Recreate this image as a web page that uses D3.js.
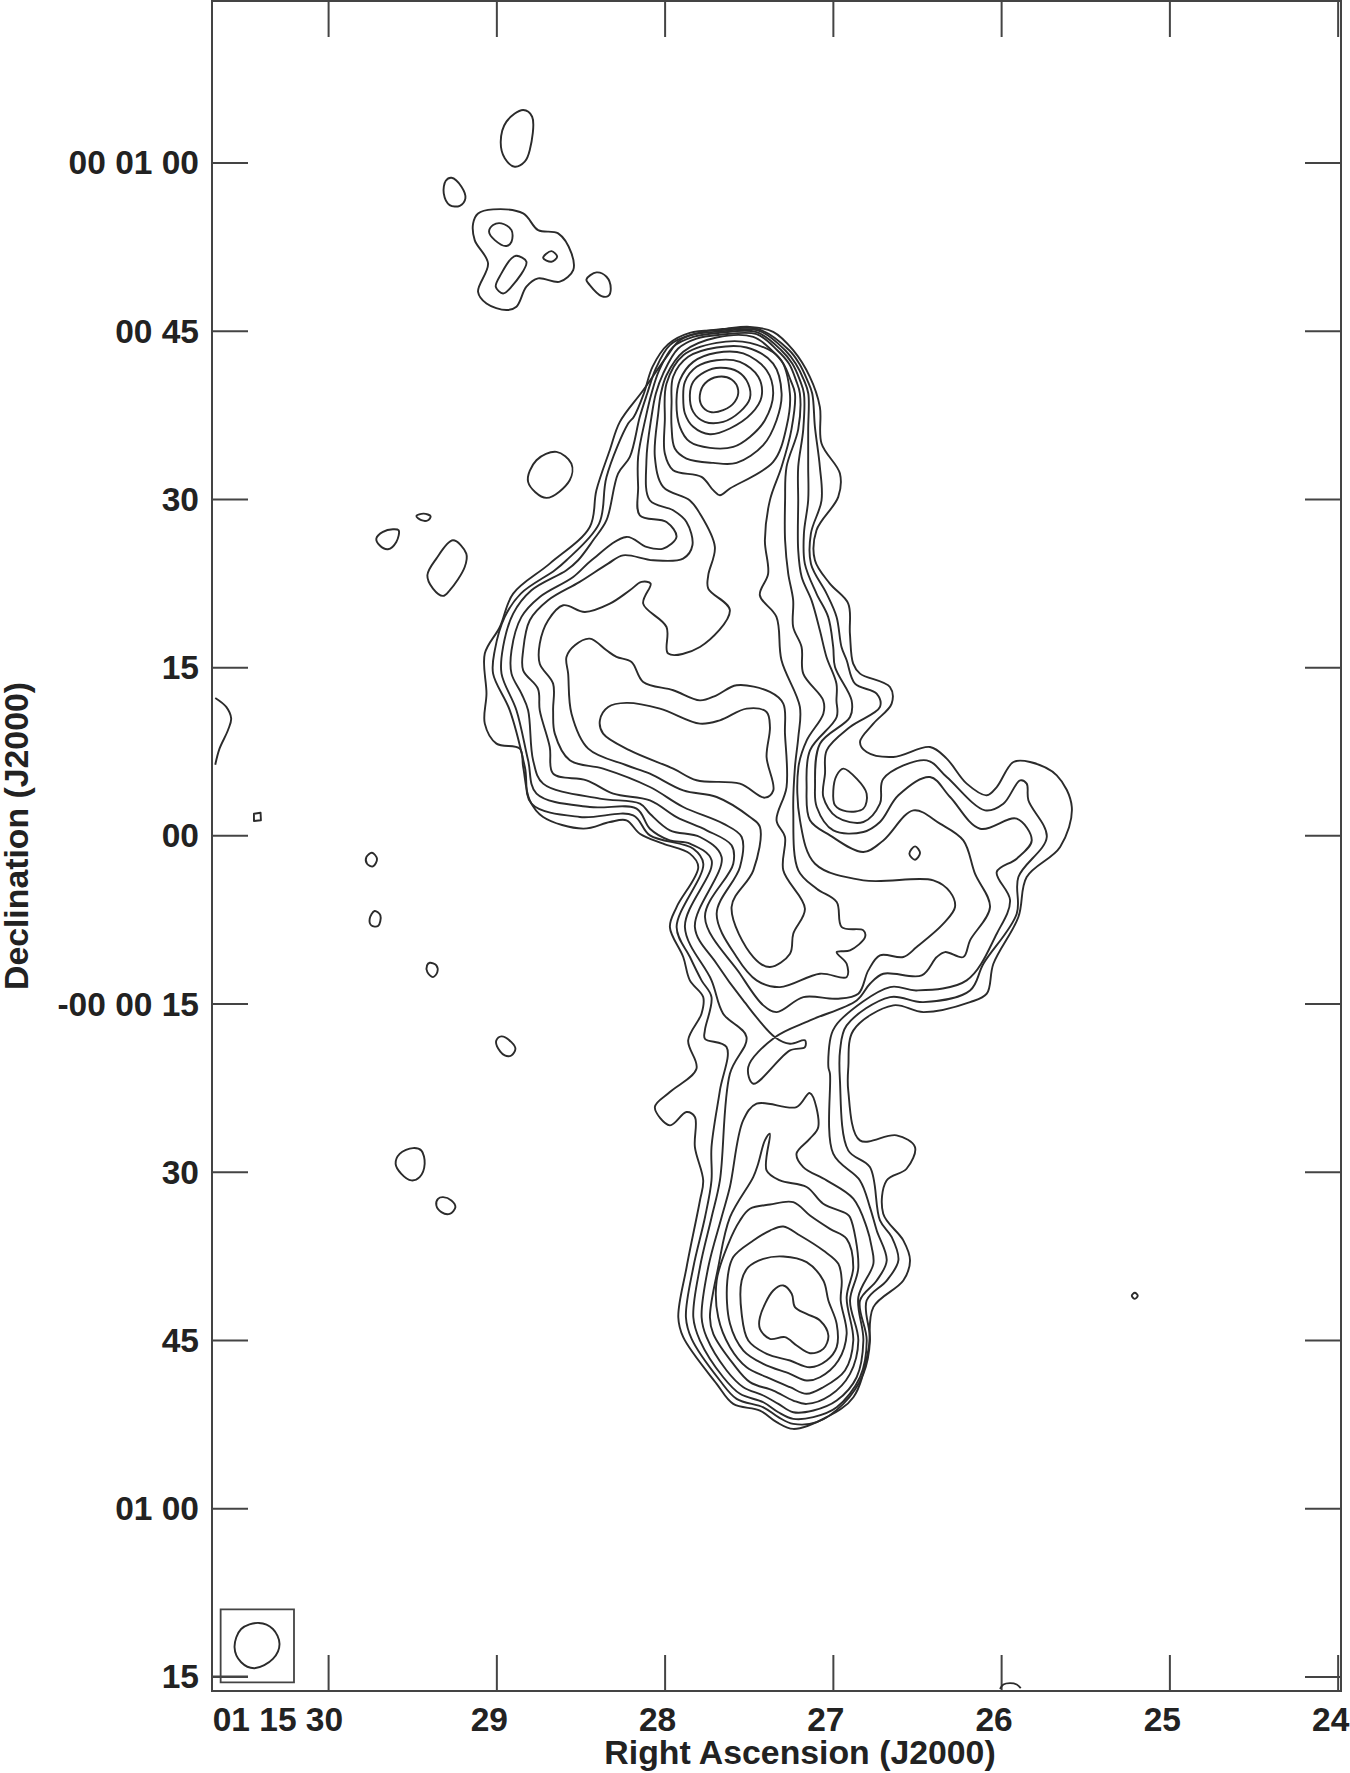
<!DOCTYPE html>
<html><head><meta charset="utf-8">
<style>html,body{margin:0;padding:0;background:#fff}svg{display:block}
.lab{font-family:"Liberation Sans",Arial,sans-serif;font-weight:700;font-size:33.5px;fill:#222}
.ttl{font-family:"Liberation Sans",Arial,sans-serif;font-weight:700;font-size:33.8px;fill:#222}
.tk line{stroke:#444;stroke-width:2}.tk path{display:none}
</style>
<script src="https://cdn.jsdelivr.net/npm/d3@7"></script></head><body>
<svg id="c" width="1350" height="1773"></svg>
<script>
// Right ascension ticks (seconds of 01 15 xx) and declination ticks (arcsec)
const raTicks=[30,29,28,27,26,25,24];
const raLabels=["01 15 30","29","28","27","26","25","24"];
const decTicks=[60,45,30,15,0,-15,-30,-45,-60,-75];
const decLabels=["00 01 00","00 45","30","15","00","-00 00 15","30","45","01 00","15"];
const raDomain=[30.69,23.98], decDomain=[74.4,-76.3];
const refRA=27; // vertices below: [arcsec west of RA 01 15 27, Dec arcsec]

const level1=[[-7.40,45.34],[-5.32,44.90],[-3.54,43.26],[-2.05,40.88],[-1.16,38.21],[-1.01,34.94],[0.63,32.26],[0.48,30.18],[-1.46,27.21],[-1.60,24.53],[-0.27,22.45],[1.37,20.67],[1.52,17.99],[1.81,15.31],[2.42,14.42],[5.09,13.23],[5.24,11.75],[3.61,9.96],[2.42,8.33],[3.01,7.43],[5.39,6.99],[8.66,7.88],[10.15,6.84],[11.93,4.61],[13.72,3.57],[14.61,4.31],[16.10,6.54],[17.58,6.54],[19.96,5.35],[21.30,2.53],[20.26,-1.04],[17.28,-3.72],[16.54,-7.28],[14.31,-11.45],[13.72,-14.12],[12.23,-14.87],[8.07,-15.76],[5.39,-15.16],[1.83,-17.39],[1.38,-20.66],[1.37,-22.74],[2.41,-27.20],[5.68,-26.75],[7.32,-27.80],[6.57,-29.73],[4.79,-30.77],[4.49,-33.74],[6.28,-36.12],[6.88,-37.91],[6.28,-39.70],[3.61,-42.07],[3.16,-45.94],[1.83,-50.10],[-0.55,-51.88],[-3.53,-52.93],[-5.01,-52.33],[-6.50,-51.29],[-8.88,-50.70],[-10.36,-48.91],[-13.34,-44.75],[-13.78,-42.97],[-13.04,-38.51],[-11.85,-32.56],[-11.56,-30.77],[-12.30,-27.80],[-12.30,-25.12],[-13.05,-24.67],[-14.53,-25.86],[-15.87,-24.23],[-14.53,-22.89],[-12.16,-20.81],[-12.90,-18.28],[-11.71,-15.90],[-11.56,-14.42],[-12.75,-12.93],[-13.34,-10.85],[-14.53,-8.18],[-13.93,-6.39],[-12.0,-2.82],[-12.75,-1.63],[-15.13,-0.74],[-17.21,0.15],[-18.40,1.34],[-19.88,1.19],[-22.26,0.60],[-25.83,1.64],[-27.02,3.12],[-27.61,6.10],[-27.91,7.73],[-29.99,8.18],[-31.03,9.96],[-30.88,12.64],[-31.03,16.21],[-29.69,18.58],[-28.50,21.56],[-25.24,24.23],[-21.67,27.50],[-21.08,30.77],[-19.89,34.34],[-18.99,36.87],[-16.91,39.69],[-14.83,42.67],[-13.64,44.15],[-11.56,44.90],[-9.48,45.19]];

const level2=[[-10.07,45.05],[-6.65,45.14],[-3.89,43.26],[-3.00,42.07],[-2.28,40.59],[-1.84,39.40],[-1.60,36.43],[-1.16,32.86],[-1.01,29.88],[-1.96,26.91],[-1.95,24.2],[-0.56,21.56],[0.33,19.48],[0.77,16.80],[1.23,15.61],[1.97,13.53],[3.90,12.64],[4.20,11.45],[1.53,9.66],[-0.55,7.58],[-0.70,5.50],[-0.85,3.42],[0.34,1.63],[2.72,1.19],[4.20,2.82],[4.50,5.05],[8.37,6.69],[10.15,5.20],[13.57,2.23],[15.20,2.82],[16.69,4.90],[17.28,4.61],[17.43,3.12],[19.07,-0.15],[16.54,-3.72],[16.39,-6.99],[13.42,-11.45],[12.23,-13.83],[8.07,-14.87],[5.10,-14.42],[1.23,-16.95],[0.64,-19.18],[0.63,-21.85],[1.37,-28.09],[3.30,-29.58],[4.20,-34.34],[5.25,-35.83],[5.84,-37.91],[4.80,-39.70],[3.01,-41.48],[3.31,-45.05],[2.72,-48.02],[0.93,-50.70],[-1.44,-52.33],[-3.53,-52.48],[-4.86,-51.88],[-6.20,-51.0],[-8.58,-50.25],[-10.07,-48.61],[-12.59,-44.90],[-13.10,-42.97],[-12.44,-38.51],[-11.40,-34.05],[-10.82,-30.77],[-10.82,-27.80],[-10.07,-22.74],[-9.48,-18.88],[-11.41,-18.13],[-11.41,-17.39],[-10.82,-14.42],[-11.71,-12.93],[-12.74,-10.85],[-13.93,-8.18],[-11.55,-2.53],[-12.44,-1.19],[-16.31,0.0],[-17.80,1.79],[-22.56,1.64],[-26.87,2.83],[-27.46,6.10],[-28.80,11.15],[-30.29,14.42],[-30.14,16.50],[-29.25,19.48],[-27.82,21.56],[-24.79,23.64],[-23.75,24.53],[-20.84,27.80],[-20.18,31.96],[-18.25,36.72],[-17.74,37.32],[-16.85,39.40],[-16.08,41.78],[-14.68,43.80],[-12.75,44.81]];

const level3=[[-10.07,44.93],[-6.65,45.02],[-4.25,43.26],[-3.32,42.07],[-2.58,40.59],[-2.19,39.40],[-2.20,36.2],[-2.20,32.86],[-2.20,29.88],[-2.58,26.91],[-2.50,24.23],[-1.46,21.56],[-0.42,19.48],[0.03,16.80],[0.19,15.02],[1.67,12.03],[1.53,10.55],[-1.15,8.17],[-1.59,4.31],[-1.44,2.53],[0.04,0.44],[2.72,0.30],[4.20,1.19],[5.84,3.57],[8.66,5.20],[10.45,3.42],[13.12,0.59],[16.39,1.49],[17.73,-0.45],[16.39,-2.08],[14.61,-3.27],[15.80,-5.80],[14.61,-8.77],[11.93,-12.93],[7.47,-13.83],[5.10,-13.53],[0.64,-16.50],[-0.11,-17.69],[-0.40,-20.66],[-0.26,-21.25],[0.03,-28.39],[2.41,-30.77],[3.30,-33.15],[3.91,-35.24],[4.80,-37.91],[3.91,-39.70],[2.42,-41.48],[3.02,-45.05],[2.42,-48.32],[0.34,-51.0],[-1.74,-51.88],[-3.53,-52.03],[-4.86,-51.44],[-6.20,-50.55],[-8.28,-49.80],[-9.77,-48.32],[-11.85,-45.05],[-12.44,-42.97],[-11.85,-38.51],[-10.81,-34.05],[-10.07,-30.77],[-9.18,-21.25],[-7.70,-17.98],[-9.78,-15.90],[-10.82,-12.93],[-13.19,-8.18],[-10.81,-2.23],[-12.74,-0.74],[-14.53,-0.45],[-16.31,0.59],[-17.50,2.38],[-21.67,2.53],[-26.42,3.72],[-27.17,6.69],[-28.21,11.15],[-29.54,14.42],[-29.40,16.80],[-28.50,19.77],[-26.87,21.85],[-23.75,23.64],[-22.71,24.53],[-21.37,26.31],[-20.18,28.10],[-19.15,32.26],[-18.10,33.75],[-17.21,37.32],[-16.55,39.40],[-15.78,41.63],[-14.53,43.71],[-12.75,44.60]];

const level4=[[-10.07,44.81],[-6.80,44.87],[-4.60,43.26],[-3.62,42.07],[-2.94,40.59],[-2.58,39.40],[-2.64,36.2],[-3.09,32.86],[-3.09,29.88],[-3.09,25.41],[-2.78,23.03],[-1.90,20.95],[-1.16,18.29],[-0.57,15.91],[0.32,13.52],[0.32,12.03],[0.34,10.55],[-2.04,7.58],[-2.34,4.31],[-2.04,1.34],[-0.26,0.0],[2.72,-1.49],[4.50,-0.45],[7.18,2.23],[9.55,1.04],[11.63,-0.45],[12.67,-3.42],[14.01,-6.39],[12.23,-9.36],[11.63,-10.85],[10.0,-10.41],[9.26,-10.85],[7.92,-12.49],[4.50,-12.34],[3.31,-13.23],[2.12,-14.72],[-2.04,-16.50],[-5.16,-18.0],[-7.54,-20.66],[-7.09,-22.15],[-3.82,-19.18],[-2.49,-18.88],[-2.49,-18.28],[-3.82,-18.58],[-5.16,-18.0],[-7.99,-14.72],[-10.36,-11.45],[-12.30,-8.18],[-9.92,-1.93],[-11.85,-0.15],[-14.53,0.45],[-16.31,1.93],[-17.20,2.83],[-20.78,3.28],[-25.83,4.61],[-26.72,6.68],[-27.17,11.15],[-27.76,12.64],[-28.65,14.42],[-28.65,16.50],[-27.76,19.48],[-26.13,21.26],[-23.15,23.04],[-21.52,24.53],[-18.40,26.61],[-16.62,25.72],[-15.13,25.57],[-13.94,26.61],[-14.83,27.95],[-17.21,28.54],[-17.36,31.07],[-17.36,33.75],[-16.67,37.32],[-16.17,39.40],[-15.48,41.48],[-14.24,43.56],[-12.45,44.45]];

const level5=[[-10.07,44.63],[-6.80,44.69],[-4.96,43.26],[-3.92,42.07],[-3.29,40.59],[-2.94,39.40],[-3.09,36.2],[-4.13,32.86],[-4.26,29.86],[-4.26,26.31],[-3.98,23.34],[-3.54,20.97],[-3.54,18.59],[-2.79,16.80],[-2.64,14.42],[-0.86,12.03],[-0.85,10.85],[-2.33,8.47],[-3.07,6.09],[-2.93,1.33],[-1.59,-2.53],[2.72,-4.01],[8.96,-4.01],[10.45,-5.05],[10.89,-6.39],[9.85,-7.88],[7.47,-9.96],[6.28,-10.85],[4.20,-10.70],[3.16,-12.04],[2.27,-14.12],[0.34,-14.57],[-2.63,-14.42],[-5.01,-15.76],[-6.2,-15.16],[-8.28,-12.34],[-11.40,-7.28],[-8.88,-2.53],[-9.03,-0.89],[-11.26,0.45],[-13.93,1.63],[-16.31,3.12],[-19.58,3.72],[-21.96,4.91],[-24.94,5.50],[-25.24,7.88],[-26.13,11.14],[-26.29,13.07],[-27.61,14.71],[-27.61,16.50],[-27.02,19.18],[-25.39,20.96],[-22.57,22.60],[-20.04,24.23],[-18.70,24.97],[-16.02,24.53],[-13.35,24.68],[-12.52,25.87],[-13.05,27.95],[-14.24,28.99],[-16.32,29.88],[-16.62,33.45],[-16.17,37.32],[-15.78,39.40],[-15.13,41.18],[-13.79,43.41],[-12.15,44.30]];

const level6=[[-10.37,44.39],[-7.10,44.45],[-5.46,43.26],[-4.42,42.07],[-3.77,40.59],[-3.38,39.40],[-3.69,36.2],[-4.57,32.86],[-5.61,29.89],[-6.06,26.31],[-5.77,23.34],[-6.51,21.41],[-5.03,19.48],[-4.58,15.61],[-2.94,11.45],[-3.08,8.77],[-3.38,6.09],[-3.53,2.23],[-3.08,-3.12],[-1.44,-4.76],[0.34,-5.95],[0.79,-8.18],[2.72,-8.47],[2.87,-9.07],[1.53,-10.26],[0.34,-10.41],[1.23,-11.45],[1.23,-12.64],[-1.15,-12.34],[-4.72,-13.53],[-6.80,-12.93],[-8.58,-10.85],[-10.36,-6.99],[-8.28,-2.82],[-8.13,-0.15],[-9.77,1.04],[-13.34,2.53],[-16.31,4.31],[-20.48,5.95],[-23.45,6.69],[-24.79,9.07],[-24.94,11.15],[-24.94,13.53],[-26.13,15.31],[-26.13,17.10],[-25.38,19.18],[-24.04,20.52],[-22.11,19.92],[-19.88,20.66],[-18.10,21.85],[-17.06,22.60],[-16.25,22.45],[-16.91,20.66],[-14.83,18.58],[-14.68,16.21],[-11.85,16.80],[-9.18,20.07],[-11.11,22.00],[-11.11,23.19],[-10.52,25.72],[-11.86,28.70],[-12.77,29.88],[-15.13,31.07],[-15.87,33.75],[-15.57,37.62],[-15.33,39.40],[-14.83,41.03],[-13.34,43.12]];

const westBulge=[[-21.67,17.54],[-20.18,16.50],[-19.29,15.91],[-17.95,15.46],[-16.91,13.68],[-14.23,12.94],[-11.85,12.04],[-10.37,12.49],[-8.58,13.38],[-5.61,12.79],[-4.42,11.75],[-4.27,9.07],[-4.13,4.31],[-5.02,1.34],[-4.27,-0.15],[-4.42,-3.12],[-2.49,-6.54],[-3.53,-8.77],[-3.82,-10.55],[-5.61,-11.74],[-7.09,-10.85],[-9.03,-6.39],[-7.09,-3.12],[-6.50,0.74],[-7.39,1.63],[-10.36,3.42],[-13.34,4.01],[-16.31,5.50],[-18.40,6.25],[-21.81,7.73],[-23.30,10.85],[-23.60,14.42],[-23.75,15.91],[-23.0,16.95]];
const westCore=[[-20.77,10.26],[-20.03,11.45],[-18.40,11.81],[-15.42,11.30],[-11.85,9.96],[-10.07,10.26],[-7.69,11.30],[-5.91,11.0],[-5.61,9.66],[-5.91,6.99],[-5.31,4.01],[-6.06,3.36],[-8.29,4.61],[-12.15,4.91],[-14.23,5.95],[-18.10,7.58],[-20.48,9.07]];
const eastHole=[[0.93,5.95],[2.12,5.05],[3.01,3.72],[2.72,2.38],[1.23,2.14],[0.19,2.68],[0.04,4.01],[0.34,5.35]];
const eastSpot=[[7.33,-0.98],[7.77,-1.58],[7.33,-2.17],[6.82,-1.64]];

const north1=[[-11.86,39.25],[-11.41,40.29],[-10.22,40.89],[-9.03,40.65],[-8.44,39.70],[-8.74,38.66],[-9.78,37.91],[-10.96,37.76],[-11.71,38.36]];
const north2=[[-12.75,39.25],[-12.45,40.44],[-11.41,41.33],[-10.07,41.69],[-8.44,41.33],[-7.55,40.29],[-7.40,38.95],[-8.29,37.76],[-9.78,36.87],[-11.41,36.87],[-12.45,37.76]];
const north3=[[-13.34,38.95],[-13.19,40.44],[-12.15,41.78],[-10.37,42.37],[-8.29,42.22],[-6.65,40.89],[-6.36,39.10],[-7.25,37.62],[-9.18,36.28],[-10.96,35.77],[-12.45,36.43],[-13.19,37.62]];
const north4=[[-13.94,38.81],[-13.64,40.59],[-12.45,42.22],[-10.37,43.03],[-7.99,42.97],[-5.91,41.48],[-5.32,39.40],[-6.06,37.02],[-7.40,35.53],[-8.88,34.64],[-10.96,34.55],[-12.75,35.09],[-13.64,36.43]];
const north5=[[-14.38,38.51],[-14.24,40.89],[-12.90,42.67],[-10.37,43.50],[-7.69,43.50],[-5.32,42.07],[-4.57,39.40],[-5.02,37.02],[-6.21,34.79],[-8.59,33.21],[-10.67,33.21],[-13.05,33.60],[-14.09,34.49],[-14.38,36.43]];
const north6=[[-14.98,37.02],[-14.83,40.29],[-13.34,42.82],[-10.37,43.92],[-7.40,43.92],[-4.72,42.52],[-3.83,39.40],[-4.13,36.43],[-5.32,33.30],[-9.18,30.93],[-10.07,30.33],[-10.67,30.78],[-11.71,31.97],[-14.24,32.56],[-14.98,34.05]];

const south1=[[-2.05,-22.98],[-1.30,-26.01],[-2.05,-27.05],[-3.24,-28.39],[-2.64,-29.58],[-0.56,-30.77],[1.82,-32.40],[3.01,-34.93],[3.46,-36.72],[3.61,-38.21],[2.27,-41.18],[2.72,-45.05],[2.12,-48.32],[0.34,-50.40],[-1.74,-51.29],[-3.53,-51.44],[-4.86,-50.70],[-6.20,-49.95],[-7.98,-49.21],[-9.47,-47.72],[-11.26,-44.75],[-11.70,-42.97],[-11.11,-38.51],[-9.92,-34.05],[-9.18,-31.36],[-8.0,-25.42],[-6.80,-23.93],[-3.24,-24.23]];
const south2=[[-5.62,-26.61],[-5.91,-29.88],[-4.72,-30.77],[-2.34,-31.36],[-0.86,-32.85],[1.22,-33.74],[1.53,-34.05],[2.27,-38.51],[1.53,-41.48],[2.27,-45.05],[1.53,-48.02],[-0.26,-49.95],[-2.34,-50.70],[-3.53,-50.40],[-5.31,-49.51],[-7.39,-48.76],[-8.88,-47.13],[-10.66,-44.45],[-10.96,-42.97],[-10.22,-38.51],[-9.17,-34.05],[-7.10,-30.47],[-6.66,-29.28],[-6.06,-27.20]];
const south3=[[-3.53,-32.71],[-2.04,-33.90],[-0.26,-35.09],[1.23,-35.98],[1.82,-38.51],[1.23,-41.18],[1.82,-45.05],[1.08,-47.72],[-0.85,-49.21],[-2.34,-49.80],[-3.82,-49.21],[-5.90,-48.32],[-7.69,-47.43],[-9.17,-45.64],[-10.22,-42.97],[-10.36,-39.70],[-9.32,-36.42],[-8.28,-34.34],[-7.39,-33.30],[-5.61,-32.92]];
const south4=[[-4.42,-34.88],[-2.93,-35.68],[-0.85,-37.02],[0.49,-38.21],[0.79,-39.70],[0.70,-41.48],[1.23,-44.45],[0.49,-46.83],[-1.15,-48.32],[-2.34,-48.61],[-3.82,-48.02],[-6.20,-47.13],[-7.98,-45.94],[-9.17,-43.56],[-9.41,-39.70],[-8.88,-37.61],[-7.09,-36.13],[-5.61,-35.24]];
const south5=[[-4.42,-37.55],[-2.34,-38.06],[-0.85,-39.70],[-0.40,-41.48],[0.34,-43.56],[0.34,-45.64],[-0.55,-46.83],[-2.04,-47.43],[-3.82,-46.83],[-5.90,-46.24],[-7.54,-45.05],[-8.13,-42.67],[-8.13,-39.70],[-7.54,-38.51],[-6.20,-37.76]];
const south6=[[-4.42,-40.14],[-3.67,-40.88],[-3.38,-42.07],[-2.34,-42.67],[-1.15,-43.26],[-0.40,-44.60],[-0.85,-45.79],[-2.04,-46.18],[-3.23,-45.49],[-4.27,-44.75],[-5.61,-44.90],[-6.50,-44.0],[-6.50,-42.97],[-5.31,-40.59]];

const nGroupTall=[[-27.61,64.68],[-26.81,64.08],[-27.02,61.11],[-27.47,60.07],[-28.36,59.62],[-29.25,60.37],[-29.61,61.85],[-29.10,63.64]];
const nGroupSmall=[[-34.0,58.64],[-33.11,57.84],[-32.76,56.80],[-33.26,56.14],[-34.16,56.20],[-34.69,57.24],[-34.51,58.37]];
const nGroupOuter=[[-30.29,55.82],[-27.61,55.46],[-26.28,53.97],[-24.49,53.68],[-23.30,51.89],[-23.15,50.41],[-24.34,49.37],[-26.28,49.66],[-27.32,48.92],[-28.21,47.14],[-29.10,46.84],[-30.88,47.43],[-31.63,48.47],[-30.74,51.0],[-31.93,53.08],[-32.07,54.57],[-31.63,55.46]];
const nGroupHole1=[[-29.55,54.57],[-28.65,53.97],[-28.65,52.93],[-29.10,52.55],[-30.14,53.08],[-30.65,53.82],[-30.29,54.42]];
const nGroupHole2=[[-25.09,52.10],[-24.58,51.59],[-25.09,51.15],[-25.83,51.5]];
const nGroupHole3=[[-28.21,51.68],[-27.32,51.15],[-28.65,48.92],[-29.40,48.32],[-30.05,48.92],[-29.55,50.11],[-28.65,51.45]];
const nGroupRight=[[-21.07,50.20],[-20.18,49.81],[-19.80,48.77],[-20.03,48.09],[-20.63,48.09],[-21.67,49.07],[-21.97,49.57]];
const blobNW=[[-24.64,34.19],[-23.31,33.15],[-23.46,31.67],[-25.54,30.09],[-27.17,31.52],[-26.43,33.45]];
const blobA=[[-33.87,26.31],[-32.68,25.12],[-32.82,23.93],[-34.16,21.85],[-34.76,21.35],[-35.65,22.0],[-36.15,23.19],[-35.35,24.68]];
const blobB=[[-39.22,27.29],[-38.71,27.2],[-38.92,26.16],[-39.66,25.51],[-40.41,25.87],[-40.70,26.46],[-40.11,27.06]];
const blobC=[[-37.13,28.48],[-36.48,28.69],[-35.86,28.45],[-36.09,28.10],[-36.69,28.10]];
const tinySquare=[[-51.61,1.93],[-51.02,2.02],[-50.99,1.34],[-51.61,1.28]];
const spotA=[[-41.09,-1.55],[-40.64,-2.09],[-41.0,-2.77],[-41.53,-2.53],[-41.59,-1.94]];
const spotB=[[-40.85,-6.75],[-40.34,-7.14],[-40.55,-8.09],[-41.15,-8.03],[-41.29,-7.44]];
const spotC=[[-35.94,-11.36],[-35.35,-11.60],[-35.26,-12.19],[-35.65,-12.64],[-36.15,-12.19],[-36.18,-11.60]];
const spotD=[[-29.55,-17.93],[-28.66,-18.44],[-28.30,-19.03],[-28.66,-19.63],[-29.25,-19.63],[-29.94,-18.82],[-30.0,-18.29]];
const spotE=[[-37.43,-27.89],[-36.69,-28.10],[-36.39,-29.29],[-36.84,-30.48],[-37.58,-30.77],[-38.47,-30.18],[-38.98,-29.29],[-38.62,-28.40]];
const spotF=[[-34.75,-32.26],[-34.01,-32.56],[-33.65,-33.15],[-34.16,-33.75],[-34.90,-33.60],[-35.35,-33.0],[-35.20,-32.41]];
const spotEast=[[26.92,-40.79],[27.18,-41.06],[26.92,-41.33],[26.65,-41.06]];
const arcWest=[[-55.06,12.25],[-54.08,11.45],[-53.64,10.41],[-53.93,9.37],[-54.68,7.73],[-55.06,6.30]];
const arcSouth=[[14.90,-76.11],[15.20,-75.72],[15.79,-75.60],[16.39,-75.72],[16.75,-76.05]];
const beamBox=[[-54.58,-69.02],[-48.04,-69.02],[-48.04,-75.53],[-54.58,-75.53]];
const beamEllipse=[[-51.17,-70.23],[-49.92,-70.77],[-49.33,-72.10],[-49.92,-73.44],[-51.56,-74.27],[-52.75,-73.74],[-53.34,-72.40],[-52.75,-70.77]];

const closedCurves=[level1,level2,level3,level4,level5,level6,westBulge,westCore,eastHole,eastSpot,north1,north2,north3,north4,north5,north6,south1,south2,south3,south4,south5,south6,nGroupTall,nGroupSmall,nGroupOuter,nGroupHole1,nGroupHole2,nGroupHole3,nGroupRight,blobNW,blobA,blobB,blobC,spotA,spotB,spotC,spotD,spotE,spotF,spotEast,beamEllipse];
const openCurves=[arcWest,arcSouth];
const polygons=[tinySquare];

const W=1350,H=1773;
const plot={left:212,right:1341,top:1,bottom:1691};
const x=d3.scaleLinear().domain(raDomain).range([plot.left,plot.right]);
const y=d3.scaleLinear().domain(decDomain).range([plot.top,plot.bottom]);
const px=d=>x(refRA-d[0]/15), py=d=>y(d[1]);
const svg=d3.select("#c");
const tickLen=36;

svg.append("g").attr("class","tk").attr("transform",`translate(0,${plot.bottom})`).call(d3.axisBottom(x).tickValues(raTicks).tickSize(-tickLen).tickFormat(""));
svg.append("g").attr("class","tk").attr("transform",`translate(0,${plot.top})`).call(d3.axisTop(x).tickValues(raTicks).tickSize(-tickLen).tickFormat(""));
svg.append("g").attr("class","tk").attr("transform",`translate(${plot.left},0)`).call(d3.axisLeft(y).tickValues(decTicks).tickSize(-tickLen).tickFormat(""));
svg.append("g").attr("class","tk").attr("transform",`translate(${plot.right},0)`).call(d3.axisRight(y).tickValues(decTicks).tickSize(-tickLen).tickFormat(""));
svg.append("rect").attr("x",plot.left).attr("y",plot.top).attr("width",plot.right-plot.left).attr("height",plot.bottom-plot.top).attr("fill","none").attr("stroke","#444").attr("stroke-width",2);

const g=svg.append("g").attr("fill","none").attr("stroke","#2b2b2b").attr("stroke-width",1.9).attr("stroke-linejoin","round");
const closed=d3.line().x(px).y(py).curve(d3.curveCatmullRomClosed.alpha(0.5));
const open=d3.line().x(px).y(py).curve(d3.curveCatmullRom.alpha(0.5));
const poly=d3.line().x(px).y(py).curve(d3.curveLinearClosed);
g.selectAll("path.cc").data(closedCurves).join("path").attr("class","cc").attr("d",closed);
g.selectAll("path.oc").data(openCurves).join("path").attr("class","oc").attr("d",open);
g.selectAll("path.pg").data(polygons).join("path").attr("class","pg").attr("d",poly);
svg.append("path").datum(beamBox).attr("d",poly).attr("fill","none").attr("stroke","#444").attr("stroke-width",1.8);
svg.append("line").attr("x1",plot.left).attr("x2",plot.left+tickLen).attr("y1",y(-75)).attr("y2",y(-75)).attr("stroke","#444").attr("stroke-width",1.8);

svg.selectAll("text.xl").data(raTicks).join("text").attr("class","lab xl")
  .attr("x",(d,i)=>i===0?x(d)+15:x(d)-7).attr("y",1731).attr("text-anchor",(d,i)=>i===0?"end":"middle").text((d,i)=>raLabels[i]);
svg.selectAll("text.yl").data(decTicks).join("text").attr("class","lab yl")
  .attr("x",199).attr("y",d=>y(d)+12).attr("text-anchor","end").text((d,i)=>decLabels[i]);
svg.append("text").attr("class","ttl").attr("x",800).attr("y",1764).attr("text-anchor","middle").text("Right Ascension (J2000)");
svg.append("text").attr("class","ttl").attr("transform","translate(28,836) rotate(-90)").attr("text-anchor","middle").text("Declination (J2000)");
</script></body></html>
